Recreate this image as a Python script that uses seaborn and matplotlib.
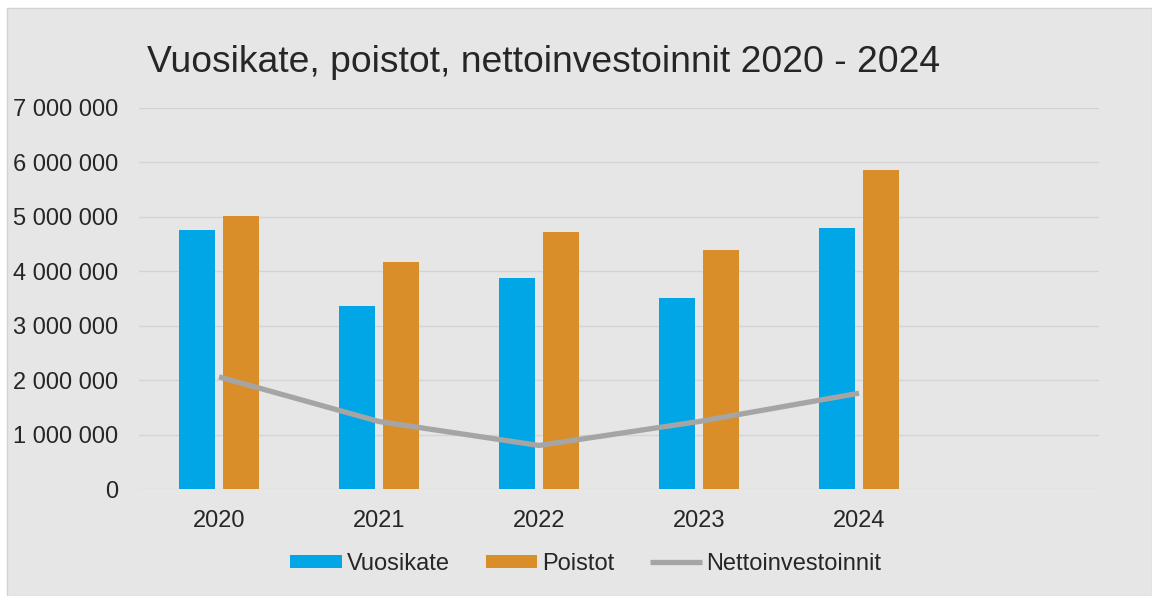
import numpy as np
import pandas as pd
import seaborn as sns
import matplotlib.pyplot as plt
from matplotlib.patches import Rectangle
from matplotlib.ticker import FuncFormatter

# Arvot luettu kuvasta
years = ['2020', '2021', '2022', '2023', '2024']
vuosikate = [4760000, 3360000, 3880000, 3510000, 4790000]
poistot = [5020000, 4170000, 4720000, 4390000, 5860000]
nettoinvestoinnit = [2060000, 1240000, 800000, 1240000, 1760000]
series_names = ['Vuosikate', 'Poistot', 'Nettoinvestoinnit']
title = 'Vuosikate, poistot, nettoinvestoinnit 2020 - 2024'

bars_df = pd.DataFrame({
    'Vuosi': years * 2,
    'Arvo': vuosikate + poistot,
    'Sarja': [series_names[0]] * len(years) + [series_names[1]] * len(years),
})

sns.set_theme(style='white')
plt.rcParams['font.family'] = ['Liberation Sans', 'DejaVu Sans']

W, H = 1152, 596
bg = '#E6E6E6'
text_col = '#262626'

fig = plt.figure(figsize=(W / 100, H / 100), dpi=100)
fig.patches.append(Rectangle((7 / W, 0), 1 - 7 / W, 1 - 8 / H, transform=fig.transFigure,
                             facecolor=bg, edgecolor='#D2D2D2', lw=1, zorder=-10))

ax = fig.add_axes([139 / W, 1 - 489 / H, 960 / W, 381 / H])
ax.set_facecolor(bg)

sns.barplot(data=bars_df, x='Vuosi', y='Arvo', hue='Sarja',
            palette=['#00A6E6', '#D98E2A'], saturation=1,
            width=0.55, gap=0.18, ax=ax, linewidth=0)
sns.lineplot(x=np.arange(len(years)), y=nettoinvestoinnit, color='#A5A5A5',
             linewidth=3.8, label=series_names[2], ax=ax, zorder=3,
             solid_capstyle='butt')

ax.set_xlim(-0.5, 5.5)
ax.set_ylim(0, 7000000)
ax.set_yticks(np.arange(0, 7000001, 1000000))
ax.yaxis.set_major_formatter(FuncFormatter(lambda v, p: f'{int(v):,}'.replace(',', ' ')))
ax.yaxis.grid(True, color='#D4D4D4', lw=1)
ax.set_axisbelow(True)
for s in ax.spines.values():
    s.set_visible(False)
ax.set_xlabel('')
ax.set_ylabel('')
ax.tick_params(axis='both', length=0, labelsize=17, labelcolor=text_col)
ax.tick_params(axis='y', pad=15)
ax.tick_params(axis='x', pad=15)

fig.text(147 / W, 1 - 72 / H, title, fontsize=26.8, color=text_col, ha='left', va='baseline')

handles, labels = ax.get_legend_handles_labels()
ax.get_legend().remove()
fig.legend(handles, labels, loc='center', bbox_to_anchor=(586 / W, 1 - 564 / H), ncol=3,
           frameon=False, fontsize=17, labelcolor=text_col, handlelength=2.2,
           handleheight=0.5, handletextpad=0.2, columnspacing=1.5)

fig.savefig('out.png', dpi=100, facecolor='white')
